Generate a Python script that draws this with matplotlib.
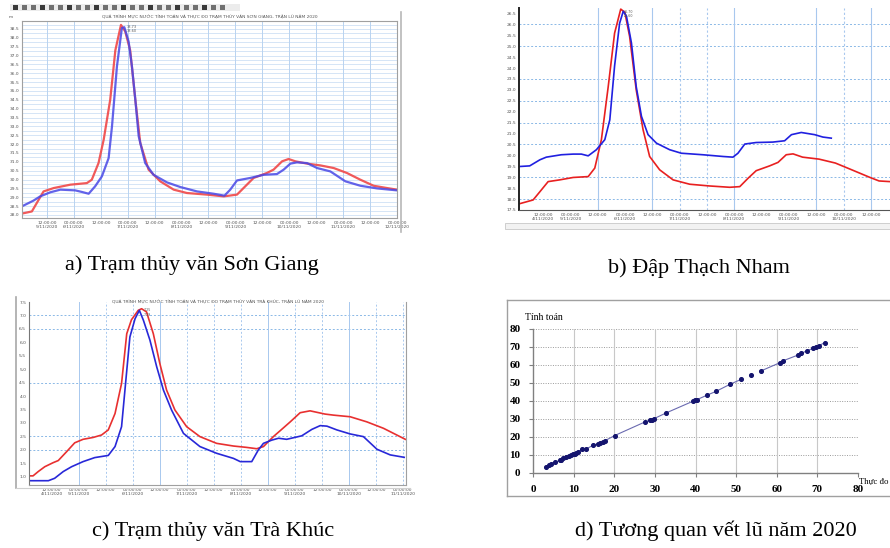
import matplotlib
matplotlib.use("Agg")
import matplotlib.pyplot as plt
from matplotlib.lines import Line2D
from matplotlib.patches import Rectangle

W, H = 890, 548

# a) Son Giang - hours from 00:00 5/11, water level (m)
a_red_t = [0.9, 5.3, 7.5, 10.5, 15, 22.4, 29.8, 32, 35, 37.3, 40.2, 42.5, 45, 46.9, 49.1, 51.4,
           53.6, 57.3, 62.5, 68.5, 74.4, 83.3, 90.8, 96.7, 100.4, 104.1, 110, 113, 116.8, 119.7,
           122.7, 127.9, 133.8, 139.8, 145.7, 151.7, 157.6, 163.6, 168]
a_red_h = [28.08, 28.2, 28.68, 29.33, 29.52, 29.71, 29.8, 29.99, 30.93, 32.25, 34.5, 37.3, 38.73,
           38.36, 37.3, 34.5, 32.06, 30.56, 29.9, 29.43, 29.24, 29.15, 29.05, 29.15, 29.62, 30.09,
           30.37, 30.56, 31.03, 31.16, 31.03, 30.9, 30.8, 30.65, 30.37, 29.99, 29.65, 29.52, 29.43]
a_blue_t = [0.9, 6, 9, 13.5, 18, 24.6, 27.6, 30.6, 33.5, 36.5, 39.5, 41, 43.2, 45.4, 46.5, 48.4,
            49.9, 51.4, 52.9, 55.8, 59.5, 65.5, 71.4, 78.9, 86.3, 91.1, 93.7, 96.7, 102.6, 108.6,
            114.5, 117.5, 120.5, 123.4, 127.9, 132.4, 138.3, 145, 151.7, 159.1, 168]
a_blue_h = [28.49, 28.81, 29.05, 29.28, 29.43, 29.39, 29.3, 29.2, 29.62, 30.18, 31.21, 33.0, 36.38,
            38.55, 38.6, 37.8, 36.38, 34.5, 32.44, 30.93, 30.27, 29.84, 29.58, 29.33, 29.2, 29.09,
            29.43, 29.95, 30.09, 30.27, 30.31, 30.56, 30.9, 30.97, 30.93, 30.65, 30.46, 29.9, 29.65,
            29.5, 29.39]
a_yticks = [28.0 + 0.5 * i for i in range(22)]

# b) Dap Thach Nham
b_red_t = [-10.6, -4.4, -1.4, 2.2, 7.3, 13.2, 19.8, 22.7, 25.6, 28.6, 31.4, 34.1, 35.9, 38.0, 40.9,
           43.9, 46.8, 51.2, 57.1, 64.4, 73.2, 82.0, 86.4, 90.0, 93.6, 99.5, 103.2, 106.8, 109.8,
           114.0, 121.2, 128.4, 135.6, 143.4, 147.6, 152.4]
b_red_h = [17.78, 17.96, 18.34, 18.8, 18.88, 18.99, 19.03, 19.42, 20.72, 23.15, 25.6, 26.7, 26.55,
           25.45, 23.0, 21.18, 19.95, 19.34, 18.88, 18.68, 18.6, 18.54, 18.57, 18.95, 19.3, 19.52,
           19.68, 20.03, 20.07, 19.92, 19.83, 19.65, 19.34, 19.0, 18.83, 18.8]
b_blue_t = [-10.6, -5.9, -1.4, 1.4, 8.0, 13.2, 16.8, 19.8, 23.4, 27.1, 29.3, 31.4, 33.6, 35.2, 36.6,
            38.8, 40.9, 43.2, 46.1, 49.8, 55.6, 60.7, 70.2, 79.1, 83.4, 85.6, 88.6, 93.6, 100.9,
            106.1, 109.1, 113.4, 119.3, 122.9, 126.6]
b_blue_h = [19.49, 19.52, 19.8, 19.92, 20.03, 20.06, 20.06, 19.98, 20.26, 20.72, 21.63, 24.1, 26.05,
            26.6, 26.38, 25.15, 23.15, 21.79, 20.95, 20.56, 20.26, 20.1, 20.03, 19.95, 19.92, 20.1,
            20.52, 20.59, 20.61, 20.67, 20.95, 21.05, 20.95, 20.84, 20.79]
b_yticks = [17.5 + 0.5 * i for i in range(19)]
b_hgrid = [18.0, 19.0, 20.5, 21.5, 22.5, 23.5, 25.0, 26.0]
b_vgrid = [24, 48, 60, 72, 84, 120, 132, 144]

# c) Tra Khuc
c_red_t = [-10.0, -8.2, -5.9, -3.0, 0.7, 3.0, 6.7, 10.3, 14.0, 18.5, 22.2, 25.2, 28.2, 31.1, 33.4,
           35.5, 38.5, 40.0, 42.2, 45.2, 48.1, 51.1, 54.8, 60.0, 65.9, 73.3, 80.8, 86.6, 91.1, 94.1,
           98.5, 102.2, 106.0, 110.4, 114.8, 121.4, 125.2, 132.6, 140.0, 147.4, 157.1]
c_red_h = [1.03, 1.03, 1.19, 1.37, 1.52, 1.6, 1.93, 2.26, 2.39, 2.46, 2.55, 2.74, 3.35, 4.47, 6.32,
           6.84, 7.19, 7.25, 7.13, 6.32, 5.21, 4.22, 3.48, 2.86, 2.49, 2.24, 2.14, 2.09, 2.04, 2.12,
           2.49, 2.76, 3.04, 3.38, 3.45, 3.33, 3.29, 3.23, 3.04, 2.8, 2.39]
c_blue_t = [-10.0, -1.4, 1.4, 5.2, 8.9, 14.0, 19.2, 25.2, 28.2, 31.1, 32.6, 34.8, 37.1, 39.0, 40.8,
            43.7, 46.7, 49.7, 53.3, 58.6, 65.9, 73.3, 80.8, 83.8, 88.9, 91.8, 94.1, 97.8, 100.8,
            104.4, 111.1, 115.6, 119.3, 122.3, 126.7, 132.6, 138.5, 144.5, 150.4, 156.6]
c_blue_h = [0.85, 0.85, 0.94, 1.19, 1.37, 1.56, 1.71, 1.79, 2.12, 2.86, 4.22, 6.2, 6.88, 7.19, 6.82,
            6.08, 5.09, 4.22, 3.48, 2.61, 2.12, 1.87, 1.68, 1.56, 1.56, 1.99, 2.24, 2.36, 2.43, 2.39,
            2.52, 2.76, 2.9, 2.88, 2.74, 2.59, 2.49, 2.02, 1.81, 1.72]
c_yticks = [1.0 + 0.5 * i for i in range(14)]
c_hgrid = [2.0, 2.5, 4.5, 6.5, 7.0]

# d) flood marks: observed vs computed
d_obs = [3.1, 3.9, 4.5, 5.5, 6.6, 7.0, 7.5, 8.2, 8.9, 9.4, 9.8, 10.3, 10.7, 11.1, 12.1, 13.1, 14.8,
         16.0, 16.6, 17.2, 17.6, 20.1, 27.6, 28.7, 29.3, 29.8, 32.8, 39.4, 39.8, 40.4, 42.8, 45.0,
         48.6, 51.3, 53.7, 56.0, 60.7, 61.5, 65.2, 66.0, 67.4, 68.9, 69.7, 70.4, 71.8]
d_calc = [3.3, 4.5, 5.2, 6.1, 7.0, 7.4, 8.2, 8.9, 9.5, 10.0, 10.4, 10.8, 11.1, 11.7, 13.2, 13.4, 15.4,
          16.3, 16.7, 17.3, 17.8, 20.8, 28.4, 29.3, 29.7, 30.2, 33.4, 39.9, 40.4, 40.8, 43.2, 45.3,
          49.4, 52.1, 54.7, 56.6, 61.2, 62.3, 65.5, 66.4, 67.9, 69.2, 70.1, 70.7, 72.5]

captions = ["a) Trạm thủy văn Sơn Giang", "b) Đập Thạch Nham",
            "c) Trạm thủy văn Trà Khúc", "d) Tương quan vết lũ năm 2020"]

fig = plt.figure(figsize=(W / 100, H / 100), dpi=100)


def box(x0, y0, x1, y1):
    return fig.add_axes([x0 / W, 1 - y1 / H, (x1 - x0) / W, (y1 - y0) / H])


def fline(x0, y0, x1, y1, color="#b0b0b0", lw=1.0):
    fig.add_artist(Line2D([x0 / W, x1 / W], [1 - y0 / H, 1 - y1 / H], color=color, lw=lw))


def time_labels(n, day0, with_first):
    labs = []
    for j in range(n):
        if j % 2 == 1:
            labs.append("00:00:00\n%d/11/2020" % (day0 + (j + 1) // 2))
        elif j == 0 and with_first:
            labs.append("12:00:00\n%d/11/2020" % day0)
        else:
            labs.append("12:00:00")
    return labs


def hydro_style(ax, spine="#a0a0a0"):
    for s in ax.spines.values():
        s.set_color(spine)
        s.set_linewidth(0.8)
    ax.tick_params(labelsize=3.2, labelcolor="#555555", length=0, pad=2)
    ax.set_axisbelow(True)


# ---------- a ----------
fig.add_artist(Rectangle((10 / W, 1 - 11 / H), 230 / W, 7 / H, transform=fig.transFigure,
                         facecolor="#ececec", edgecolor="none"))
for k in range(24):
    fig.add_artist(Rectangle(((13 + 9 * k) / W, 1 - 10 / H), 5 / W, 5 / H, transform=fig.transFigure,
                             facecolor="#707070" if k % 3 else "#3a3a3a", edgecolor="none"))
fline(401, 12, 401, 232, "#b8b8b8", 1.2)
ax = box(22, 21, 397, 218)
hydro_style(ax)
for v in [27.75 + 0.25 * i for i in range(46)]:
    ax.axhline(v, color="#cfe0f5", lw=0.6, zorder=0)
for h in range(12, 169, 12):
    ax.axvline(h, color="#b9d3f0", lw=0.7, zorder=0)
ax.plot(a_red_t, a_red_h, color="#f04848", lw=1.6, alpha=0.9)
ax.plot(a_blue_t, a_blue_h, color="#4848e6", lw=1.6, alpha=0.85)
ax.set_xlim(0.9, 168)
ax.set_ylim(27.83, 38.95)
ax.set_yticks(a_yticks)
ax.set_yticklabels(["%.1f" % v for v in a_yticks])
ax.set_xticks(list(range(12, 169, 12)))
ax.set_xticklabels(time_labels(14, 5, True))
ax.text(0.5, 1.01, "QUÁ TRÌNH MỰC NƯỚC TÍNH TOÁN VÀ THỰC ĐO TRẠM THỦY VĂN SƠN GIANG, TRẬN LŨ NĂM 2020",
        transform=ax.transAxes, ha="center", va="bottom", fontsize=3.2, color="#555555")
ax.text(-0.03, 1.01, "m", transform=ax.transAxes, ha="center", va="bottom", fontsize=3.2, color="#555555")
ax.text(47.5, 38.75, "38.73\n38.60", fontsize=2.5, color="#555555", va="top")

# ---------- b ----------
ax = box(519, 8, 890, 210)
hydro_style(ax)
ax.spines["top"].set_visible(False)
ax.spines["right"].set_visible(False)
ax.spines["left"].set_color("#222222")
ax.spines["left"].set_linewidth(1.4)
ax.spines["bottom"].set_color("#555555")
for v in b_hgrid:
    ax.axhline(v, color="#8ab8e6", lw=0.7, ls=(0, (2, 2)), zorder=0)
for h in b_vgrid:
    ax.axvline(h, color="#a8c8ee", lw=0.8, ls="-" if h in (24, 48, 84, 120, 144) else (0, (2, 2)), zorder=0)
ax.plot(b_red_t, b_red_h, color="#e82020", lw=1.2)
ax.plot(b_blue_t, b_blue_h, color="#2020e0", lw=1.2)
ax.set_xlim(-10.6, 152.4)
ax.set_ylim(17.5, 26.75)
ax.set_yticks(b_yticks)
ax.set_yticklabels(["%.1f" % v for v in b_yticks])
ax.set_xticks(list(range(0, 145, 12)))
ax.set_xticklabels(time_labels(13, 4, True))
ax.text(35.5, 26.68, "26.70\n26.60", fontsize=2.3, color="#555555", va="top")
fig.add_artist(Rectangle((505 / W, 1 - 229 / H), 385 / W, 6 / H, transform=fig.transFigure,
                         facecolor="#f2f2f2", edgecolor="#c8c8c8", lw=0.6))

# ---------- c ----------
fline(16, 297, 16, 488, "#a8a8a8", 1.2)
fline(16, 488, 410, 488, "#d0d0d0", 0.8)
ax = box(29, 302, 406, 485)
hydro_style(ax)
ax.spines["top"].set_visible(False)
ax.spines["left"].set_color("#777777")
for v in c_hgrid:
    ax.axhline(v, color="#8ab8e6", lw=0.7, ls=(0, (2, 2)), zorder=0)
for h in range(12, 157, 12):
    ax.axvline(h, color="#a8c8ee", lw=0.7, ls="-" if h in (12, 48, 96, 132) else (0, (2, 2)), zorder=0)
ax.plot(c_red_t, c_red_h, color="#e83030", lw=1.2)
ax.plot(c_blue_t, c_blue_h, color="#2828d8", lw=1.2)
ax.set_xlim(-10.0, 157.4)
ax.set_ylim(0.69, 7.5)
ax.set_yticks(c_yticks)
ax.set_yticklabels(["%.1f" % v for v in c_yticks])
ax.set_xticks(list(range(0, 157, 12)))
ax.set_xticklabels(time_labels(14, 4, True))
ax.text(0.5, 1.0, "QUÁ TRÌNH MỰC NƯỚC TÍNH TOÁN VÀ THỰC ĐO TRẠM THỦY VĂN TRÀ KHÚC, TRẬN LŨ NĂM 2020",
        transform=ax.transAxes, ha="center", va="center", fontsize=3.2, color="#555555")
ax.text(41.0, 7.27, "7.25\n7.19", fontsize=2.3, color="#555555", va="top")

# ---------- d ----------
fline(507, 300, 890, 300, "#a0a0a0", 1.0)
fline(507, 300, 507, 496, "#a0a0a0", 1.0)
fline(507, 496, 890, 496, "#a0a0a0", 1.0)
ax = box(533, 329, 858, 473)
serif = "Liberation Serif"
ax.set_xlim(0, 80)
ax.set_ylim(0, 80)
for v in range(10, 81, 10):
    ax.axhline(v, color="#9a9a9a", lw=0.7, ls=(0, (1, 1.5)), zorder=0)
for v in range(10, 71, 10):
    ax.axvline(v, color="#c8c8c8", lw=0.8, zorder=0)
ax.axvline(80, color="#9a9a9a", lw=0.7, ls=(0, (1, 1.5)), zorder=0)
for s in ["top", "right"]:
    ax.spines[s].set_visible(False)
for s in ["left", "bottom"]:
    ax.spines[s].set_color("#808080")
    ax.spines[s].set_linewidth(1.0)
ax.set_xticks(range(0, 81, 10))
ax.set_yticks(range(0, 81, 10))
ax.tick_params(length=3, width=0.8, color="#808080", labelsize=8, pad=6)
for t in ax.get_xticklabels() + ax.get_yticklabels():
    t.set_fontfamily(serif)
    t.set_fontweight("bold")
lo = [i for i, v in enumerate(d_obs) if v <= 51.5]
hi = [i for i, v in enumerate(d_obs) if v >= 55.9]
ax.plot([d_obs[i] for i in lo], [d_calc[i] for i in lo], color="#6a6ab0", lw=0.8, zorder=2)
ax.plot([d_obs[i] for i in hi], [d_calc[i] for i in hi], color="#6a6ab0", lw=0.8, zorder=2)
ax.scatter(d_obs, d_calc, s=7, color="#14146e", zorder=3)
fig.text(525 / W, 1 - 317 / H, "Tính toán", fontsize=7, family=serif, ha="left", va="center")
fig.text(859 / W, 1 - 481 / H, "Thực đo", fontsize=6.3, family=serif, ha="left", va="center")

# ---------- captions ----------
cap_pos = [(192, 265), (699, 268), (213, 531), (716, 531)]
for (cx, cy), txt in zip(cap_pos, captions):
    fig.text(cx / W, 1 - cy / H, txt, fontsize=16, family=serif, ha="center", va="center")

fig.savefig("out.png", dpi=100)
